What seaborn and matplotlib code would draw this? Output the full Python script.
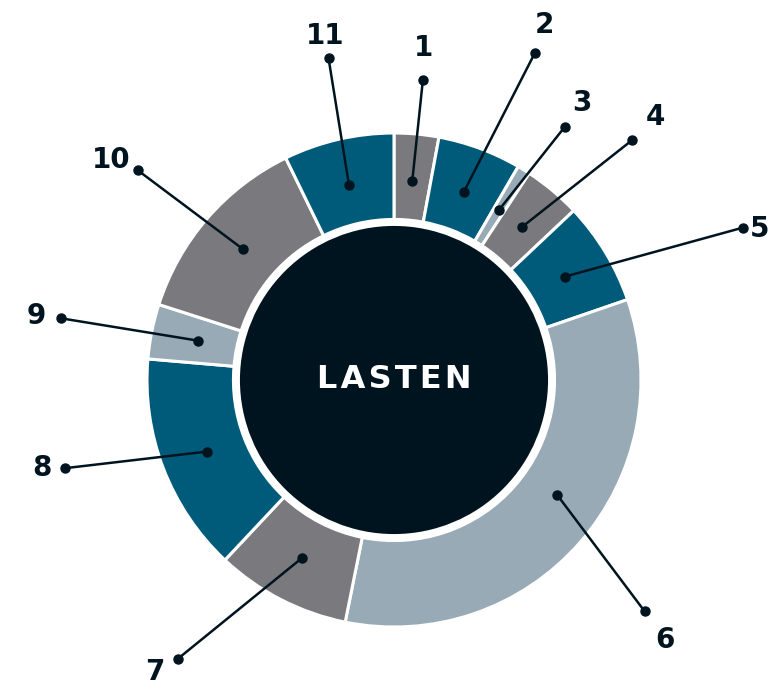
import numpy as np
import matplotlib
matplotlib.use("Agg")
import matplotlib.pyplot as plt
import seaborn as sns

# segment labels and their share of the ring (degrees)
labels = ["1", "2", "3", "4", "5", "6", "7", "8", "9", "10", "11"]
shares = [10.5, 19.7, 3.0, 13.5, 24.3, 120.4, 31.8, 51.7, 12.9, 46.2, 26.0]
color_keys = ["grey", "blue", "light", "grey", "blue", "light",
              "grey", "blue", "light", "grey", "blue"]
center_label = "LASTEN"

# callout layout: angle clockwise from top, radius in ring units
dot_angle = [5.5, 23.3, 34.0, 44.8, 66.4, 132.7, 217.8, 255.0, 280.5, 309.3, 348.5]
dot_radius = [1.22, 1.44, 1.235, 1.37, 1.54, 1.38, 1.43, 1.38, 1.37, 1.34, 1.33]
text_angle = [5.0, 23.0, 34.2, 44.8, 67.6, 133.8, 219.3, 256.0, 280.2, 307.8, 348.7]
text_radius = [1.35, 1.56, 1.355, 1.50, 1.60, 1.52, 1.53, 1.47, 1.47, 1.45, 1.42]

palette = {"grey": "#7a7a7e", "blue": "#005b7b", "light": "#97aab6"}
ink = "#00141f"

sns.set_style("white")
plt.rcParams["font.family"] = ["DejaVu Sans"]

fig = plt.figure(figsize=(7.7, 6.9), dpi=100)
ax = fig.add_axes([0, 0, 1, 1])

wedges, _ = ax.pie(shares, colors=[palette[k] for k in color_keys],
                   startangle=90, counterclock=False, radius=1.0,
                   wedgeprops=dict(width=0.35, edgecolor="white", linewidth=2.2))

ax.add_patch(plt.Circle((0, 0), 0.635, facecolor=ink, edgecolor="white",
                        linewidth=4, zorder=3))
# hair spaces give the wide letter spacing of the original
ax.text(0, 0, "\u200a".join(center_label), color="white", fontsize=23,
        fontweight="bold", ha="center", va="center", zorder=4)


def polar(angle_deg, r):
    a = np.deg2rad(angle_deg)
    return r * np.sin(a), r * np.cos(a)


for i, w in enumerate(wedges):
    # wedge angles are matplotlib counter-clockwise from +x
    mid_cw = (90 - (w.theta1 + w.theta2) / 2) % 360
    if labels[i] == "6":
        mid_cw -= 6
    x0, y0 = polar(mid_cw, 0.81)
    x1, y1 = polar(dot_angle[i], dot_radius[i])
    ax.plot([x0, x1], [y0, y1], color=ink, lw=1.8, zorder=5,
            solid_capstyle="round")
    ax.plot([x0, x1], [y0, y1], "o", color=ink, ms=6.5, zorder=6)
    tx, ty = polar(text_angle[i], text_radius[i])
    ax.text(tx, ty, labels[i], color=ink, fontsize=20, fontweight="bold",
            ha="center", va="center", zorder=6)

R = 247.0
ax.set_xlim(-394 / R, (770 - 394) / R)
ax.set_ylim(-(690 - 380) / R, 380 / R)
ax.set_aspect("equal")
ax.axis("off")

fig.savefig("out.png", dpi=100)
